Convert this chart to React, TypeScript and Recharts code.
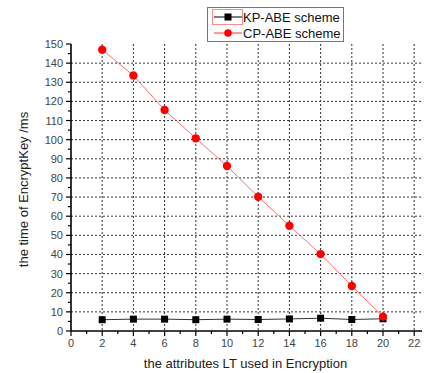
import React from 'react'
import {
  LineChart,
  Line,
  XAxis,
  YAxis,
  CartesianGrid,
} from 'recharts'

// attribute counts on the x axis
const attrs = [2, 4, 6, 8, 10, 12, 14, 16, 18, 20]
// time of EncryptKey (ms)
const kpAbe = [5.9, 6.2, 6.2, 5.9, 6.2, 6.0, 6.3, 6.7, 6.0, 6.4]
const cpAbe = [147, 133.5, 115.5, 100.7, 86.2, 70.2, 55, 40.2, 23.5, 7.5]

const xTicks = Array.from({ length: 23 }, (_, i) => i)
const yTicks = Array.from({ length: 31 }, (_, i) => i * 5)
const gridX = [2, 4, 6, 8, 10, 12, 14, 16, 18, 20, 22]
const gridY = [10, 20, 30, 40, 50, 60, 70, 80, 90, 100, 110, 120, 130, 140]

const FONT = '"Liberation Sans", Arial, sans-serif'

const data = attrs.map((a, i) => ({ attr: a, kp: kpAbe[i], cp: cpAbe[i] }))

const XTick = (props: any) => {
  const { x, y, payload } = props
  const major = payload.value % 2 === 0
  return (
    <g>
      <line x1={x} x2={x} y1={y} y2={y + (major ? 5 : 3)} stroke="#000" strokeWidth={1.2} />
      {major && (
        <text x={x} y={y + 16} textAnchor="middle" fontSize={11} fill="#444" fontFamily={FONT}>
          {payload.value}
        </text>
      )}
    </g>
  )
}

const YTick = (props: any) => {
  const { x, y, payload } = props
  const major = payload.value % 10 === 0
  return (
    <g>
      <line x1={x - (major ? 5 : 3)} x2={x} y1={y} y2={y} stroke="#000" strokeWidth={1.2} />
      {major && (
        <text x={x - 8} y={y + 4} textAnchor="end" fontSize={11} fill="#444" fontFamily={FONT}>
          {payload.value}
        </text>
      )}
    </g>
  )
}

const SquareDot = (props: any) => {
  const { cx, cy, index } = props
  return <rect key={`sq-${index}`} x={cx - 3.5} y={cy - 3.5} width={7} height={7} fill="#000" />
}

const RoundDot = (props: any) => {
  const { cx, cy, index } = props
  return <circle key={`ci-${index}`} cx={cx} cy={cy} r={4.2} fill="#ff0000" />
}

export default function App() {
  return (
    <div style={{ position: 'absolute', left: 0, top: 0, width: 428, height: 373, background: '#fff', fontFamily: FONT }}>
      <LineChart width={428} height={373} data={data} margin={{ top: 44, right: 6, bottom: 12, left: 11 }}>
        <CartesianGrid
          stroke="#333"
          strokeDasharray="2 2"
          horizontalValues={gridY}
          verticalValues={gridX}
        />
        <XAxis
          dataKey="attr"
          type="number"
          domain={[0, 22.5]}
          ticks={xTicks}
          interval={0}
          height={30}
          tickLine={false}
          tickSize={0}
          tickMargin={0}
          axisLine={{ stroke: '#000', strokeWidth: 1.6 }}
          tick={<XTick />}
          label={{
            content: (p: any) => {
              const vb = p.viewBox
              return (
                <text x={vb.x + vb.width / 2 - 1} y={368} textAnchor="middle" fontSize={13} fill="#222" fontFamily={FONT}>
                  the attributes LT used in Encryption
                </text>
              )
            },
          }}
        />
        <YAxis
          type="number"
          domain={[0, 150]}
          ticks={yTicks}
          interval={0}
          width={60}
          tickLine={false}
          tickSize={0}
          tickMargin={0}
          axisLine={{ stroke: '#000', strokeWidth: 1.6 }}
          tick={<YTick />}
          label={{
            content: (p: any) => {
              const vb = p.viewBox
              const cy = vb.y + vb.height / 2 + 2
              return (
                <text
                  x={28}
                  y={cy}
                  transform={`rotate(-90 28 ${cy})`}
                  textAnchor="middle"
                  fontSize={13}
                  fill="#222"
                  fontFamily={FONT}
                >
                  the time of EncryptKey /ms
                </text>
              )
            },
          }}
        />
        <Line
          dataKey="kp"
          stroke="#333"
          strokeWidth={1}
          dot={SquareDot}
          activeDot={false}
          isAnimationActive={false}
        />
        <Line
          dataKey="cp"
          stroke="#ff6f6f"
          strokeWidth={1}
          dot={RoundDot}
          activeDot={false}
          isAnimationActive={false}
        />
      </LineChart>

      {/* legend box */}
      <div
        style={{
          position: 'absolute',
          left: 207,
          top: 7,
          width: 135,
          height: 33,
          border: '1px solid #777',
          background: '#fff',
        }}
      >
        <svg width={135} height={33} style={{ position: 'absolute', left: 0, top: 0 }}>
          <rect x={4.5} y={1.5} width={30} height={15} fill="none" stroke="#ff8c8c" strokeWidth={1} />
          <line x1={6} x2={34} y1={9} y2={9} stroke="#000" strokeWidth={1} />
          <rect x={16.5} y={5.5} width={7} height={7} fill="#000" />
          <text x={35} y={13.5} fontSize={13} fill="#111" fontFamily={FONT}>KP-ABE scheme</text>
          <line x1={6} x2={34} y1={25} y2={25} stroke="#ff3030" strokeWidth={1} />
          <circle cx={20} cy={25} r={3.8} fill="#ff0000" />
          <text x={35} y={29.5} fontSize={13} fill="#111" fontFamily={FONT}>CP-ABE scheme</text>
        </svg>
      </div>
    </div>
  )
}
